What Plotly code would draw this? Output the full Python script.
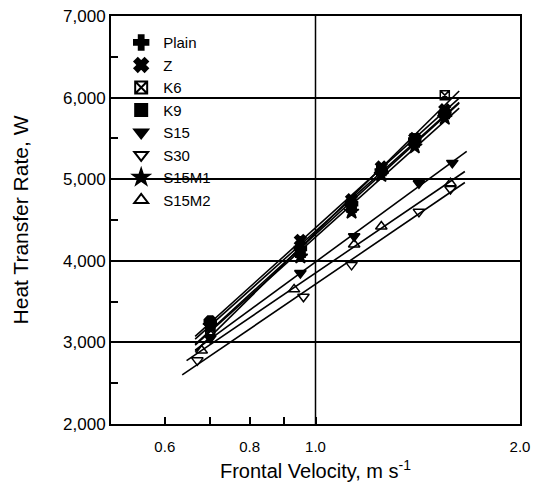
import numpy as np
import plotly.graph_objects as go

# ---- data ----
series_names = ["Plain", "Z", "K6", "K9", "S15", "S30", "S15M1", "S15M2"]

v_upper = [0.70, 0.95, 1.13, 1.25, 1.40, 1.55]
q_plain = [3250, 4150, 4700, 5100, 5480, 5800]
q_z     = [3250, 4250, 4750, 5150, 5500, 5850]
q_k6    = [3150, 4100, 4700, 5120, 5500, 6030]
q_k9    = [3200, 4100, 4650, 5100, 5450, 5800]
q_s15m1 = [3200, 4050, 4600, 5050, 5400, 5750]

v_s15   = [0.70, 0.95, 1.14, 1.42, 1.59]
q_s15   = [3050, 3850, 4300, 4950, 5200]
v_s30   = [0.67, 0.96, 1.13, 1.42, 1.58]
q_s30   = [2780, 3560, 3950, 4600, 4880]
v_s15m2 = [0.68, 0.93, 1.14, 1.25, 1.58]
q_s15m2 = [2900, 3650, 4200, 4420, 4950]

y_range = [2000, 7000]
y_major_step = 1000
y_minor_step = 500
x_ticks = [0.6, 0.7, 0.8, 0.9, 1.0, 2.0]
x_ticktext = ["0.6", "", "0.8", "", "1.0", "2.0"]

series = [
    ("Plain", v_upper, q_plain, "cross", 10),
    ("Z", v_upper, q_z, "x", 10),
    ("K6", v_upper, q_k6, "square-x-open", 9),
    ("K9", v_upper, q_k9, "square", 9),
    ("S15", v_s15, q_s15, "triangle-down", 10),
    ("S30", v_s30, q_s30, "triangle-down-open", 10),
    ("S15M1", v_upper, q_s15m1, "star", 11),
    ("S15M2", v_s15m2, q_s15m2, "triangle-up-open", 10),
]

fig = go.Figure()
for name, v, q, sym, sz in series:
    lv = np.log10(v)
    b, a = np.polyfit(lv, q, 1)
    xs = np.array([min(v) * 0.95, max(v) * 1.05])
    fig.add_trace(go.Scatter(x=xs, y=a + b * np.log10(xs), mode="lines",
                             line=dict(color="black", width=1.6),
                             showlegend=False, hoverinfo="skip"))
for name, v, q, sym, sz in series:
    fig.add_trace(go.Scatter(x=v, y=q, mode="markers", name=name,
                             marker=dict(symbol=sym, size=sz, color="black",
                                         line=dict(color="black", width=1.5))))

fig.add_shape(type="line", xref="x", yref="paper", x0=1.0, x1=1.0, y0=0, y1=1,
              line=dict(color="black", width=1.5))

fig.update_layout(
    width=539, height=484,
    margin=dict(l=111, r=19, t=16, b=60),
    paper_bgcolor="white", plot_bgcolor="white",
    font=dict(family="Liberation Sans, Arial, sans-serif", color="black", size=16),
    legend=dict(x=0.02, y=0.975, xanchor="left", yanchor="top",
                bgcolor="rgba(0,0,0,0)", font=dict(size=15),
                tracegroupgap=0, itemsizing="constant", itemwidth=34),
)
fig.update_xaxes(type="log", range=[np.log10(0.5), np.log10(2.0)],
                 tickvals=x_ticks, ticktext=x_ticktext,
                 ticks="inside", ticklen=7, tickwidth=1.5, tickcolor="black",
                 ticklabelstandoff=8, automargin=False,
                 showgrid=False, zeroline=False,
                 showline=True, linecolor="black", linewidth=2, mirror=True,
                 tickfont=dict(size=15),
                 title=dict(text="Frontal Velocity, m s<sup>-1</sup>", font=dict(size=20), standoff=10))
fig.update_yaxes(range=y_range, tick0=y_range[0], dtick=y_major_step, tickformat=",",
                 ticks="inside", ticklen=6, tickwidth=1.5, tickcolor="black",
                 automargin=False,
                 minor=dict(dtick=y_minor_step, ticks="inside", ticklen=7, tickwidth=1.5,
                            tickcolor="black", showgrid=False),
                 showgrid=True, gridcolor="black", gridwidth=1.5,
                 zeroline=False,
                 showline=True, linecolor="black", linewidth=2, mirror=True,
                 tickfont=dict(size=17),
                 title=dict(text="Heat Transfer Rate, W", font=dict(size=21), standoff=29))

fig.write_html("out.html", config={"displayModeBar": False},
               post_script="document.body.style.margin='0';document.body.style.overflow='hidden';")
